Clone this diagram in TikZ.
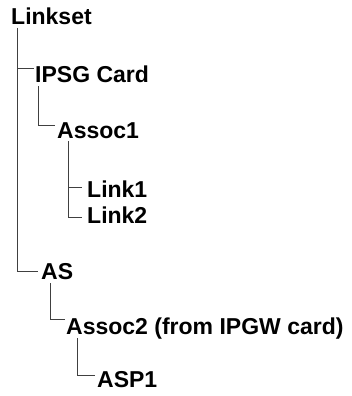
\documentclass[tikz,border=0pt]{standalone}
\usepackage{fontspec}
\setmainfont{Liberation Sans}

\begin{document}
\begin{tikzpicture}[x=1pt,y=-1pt,
  item/.style={anchor=base west,inner sep=0pt,font=\fontsize{23}{28}\selectfont\bfseries},
  branch/.style={line width=1pt,black!75}]
  \useasboundingbox (0,0) rectangle (351,396);
  % tree entries
  \node[item] (linkset) at (11,25) {Linkset};
  \node[item] (ipsg) at (35,82) {IPSG Card};
  \node[item] (assoc1) at (57,138) {Assoc1};
  \node[item] (link1) at (87,197) {Link1};
  \node[item] (link2) at (87,223) {Link2};
  \node[item] (as) at (41,279) {AS};
  \node[item] (assoc2) at (66,334) {Assoc2 (from IPGW card)};
  \node[item] (asp1) at (97,387) {ASP1};
  % branches
  \draw[branch] (linkset.base west) ++(6,3) |- ([xshift=-1pt,yshift=13pt]ipsg.base west);
  \draw[branch] (linkset.base west) ++(6,3) |- ([xshift=-3pt,yshift=8pt]as.base west);
  \draw[branch] (ipsg.base west) ++(3,4) |- ([xshift=-2pt,yshift=13pt]assoc1.base west);
  \draw[branch] (assoc1.base west) ++(11,3) |- ([xshift=-5pt,yshift=10pt]link1.base west);
  \draw[branch] (assoc1.base west) ++(11,3) |- ([xshift=-5pt,yshift=6pt]link2.base west);
  \draw[branch] (as.base west) ++(9,4) |- ([xshift=-1pt,yshift=15pt]assoc2.base west);
  \draw[branch] (assoc2.base west) ++(11,4) |- ([xshift=-2pt,yshift=12pt]asp1.base west);
\end{tikzpicture}
\end{document}
